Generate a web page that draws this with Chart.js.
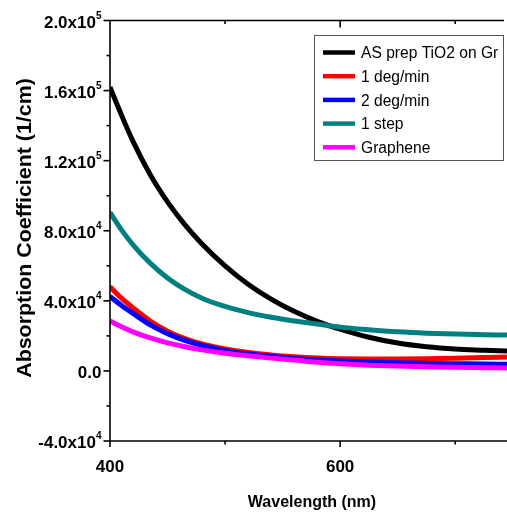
<!DOCTYPE html>
<html>
<head>
<meta charset="utf-8">
<script src="https://cdn.jsdelivr.net/npm/chart.js@4/dist/chart.umd.min.js"></script>
<style>
  html, body { margin: 0; padding: 0; background: #fff; }
  #wrap { width: 507px; height: 517px; }
</style>
</head>
<body>
<div id="wrap"><canvas id="c" width="507" height="517"></canvas></div>
<script>
// Wavelength grid (nm)
const wavelengths = [400, 410, 420, 435, 450, 465, 480, 500, 520, 540, 560, 580, 600, 625, 650, 675, 700, 725, 745];

// Absorption coefficient (1/cm) for each sample
const asPrepTiO2 = [162000, 146000, 131000, 112000, 96500, 83500, 72500, 60000, 49500, 41000, 34000, 28300, 23800, 19200, 15900, 13800, 12500, 11800, 11300];
const oneDegMin  = [48000, 41500, 36000, 28500, 22700, 18500, 15400, 12500, 10500, 9100, 8100, 7400, 7000, 6800, 6750, 6900, 7200, 7600, 8000];
const twoDegMin  = [42500, 37300, 32800, 26300, 21300, 17400, 14500, 11600, 9600, 8200, 7100, 6300, 5700, 5100, 4600, 4300, 4100, 3900, 3800];
const oneStep    = [90500, 80500, 72000, 61500, 53000, 46500, 41500, 36800, 33300, 30600, 28500, 26800, 25000, 23500, 22300, 21500, 21000, 20700, 20500];
const graphene   = [28500, 25200, 22300, 18800, 16000, 13800, 12000, 10100, 8600, 7300, 6200, 5000, 4100, 3300, 2750, 2350, 2050, 1850, 1700];

// Series names and colours
const seriesNames  = ['AS prep TiO2 on Gr', '1 deg/min', '2 deg/min', '1 step', 'Graphene'];
const seriesColors = ['#000000', '#ff0000', '#0000ff', '#008080', '#ff00ff'];
const seriesValues = [asPrepTiO2, oneDegMin, twoDegMin, oneStep, graphene];
// later series are painted over earlier ones
const seriesOrder  = [5, 4, 3, 2, 1];

// Axis ranges and ticks
const xRange = [400, 745];
const yRange = [-40000, 200000];
const xTickValues = [400, 500, 600, 700];
const xTickLabels = ['400', '', '600', ''];
const yTickValues = [-40000, -20000, 0, 20000, 40000, 60000, 80000, 100000, 120000, 140000, 160000, 180000, 200000];
const yTickLabels = ['-4.0x10^4', '', '0.0', '', '4.0x10^4', '', '8.0x10^4', '', '1.2x10^5', '', '1.6x10^5', '', '2.0x10^5'];

const xTitle = 'Wavelength (nm)';
const yTitle = 'Absorption Coefficient (1/cm)';

const FONT = '"Liberation Sans", Arial, Helvetica, sans-serif';

const datasets = seriesNames.map((name, i) => ({
  label: name,
  data: wavelengths.map((w, j) => ({ x: w, y: seriesValues[i][j] })),
  borderColor: seriesColors[i],
  backgroundColor: seriesColors[i],
  borderWidth: 5,
  pointRadius: 0,
  fill: false,
  cubicInterpolationMode: 'monotone',
  order: seriesOrder[i]
}));

// Axes frame, ticks, labels and titles in an Origin-like style
const framePlugin = {
  id: 'frame',
  afterDatasetsDraw(chart) {
    const ctx = chart.ctx;
    const xs = chart.scales.x, ys = chart.scales.y;
    const a = chart.chartArea;
    ctx.save();
    ctx.strokeStyle = '#000';
    ctx.fillStyle = '#000';
    ctx.lineWidth = 1.6;
    ctx.lineCap = 'butt';

    // left axis, bottom axis, top border
    ctx.beginPath();
    ctx.moveTo(a.left, a.top); ctx.lineTo(a.left, a.bottom);
    ctx.moveTo(a.left, a.bottom); ctx.lineTo(a.right, a.bottom);
    ctx.moveTo(a.left, a.top); ctx.lineTo(a.right - 3, a.top);
    ctx.stroke();

    // y ticks (outward) and labels with superscript exponents
    yTickValues.forEach((v, i) => {
      const py = ys.getPixelForValue(v);
      const major = yTickLabels[i] !== '';
      ctx.beginPath();
      ctx.moveTo(a.left, py);
      ctx.lineTo(a.left - (major ? 6.5 : 3.5), py);
      ctx.stroke();
      if (!major) return;
      const parts = yTickLabels[i].split('^');
      ctx.font = 'bold 17px ' + FONT;
      const wBase = ctx.measureText(parts[0]).width;
      let wExp = 0;
      if (parts[1]) { ctx.font = 'bold 10px ' + FONT; wExp = ctx.measureText(parts[1]).width; }
      const right = 101.5;
      const x0 = right - wBase - wExp;
      ctx.textAlign = 'left';
      ctx.textBaseline = 'alphabetic';
      ctx.font = 'bold 17px ' + FONT;
      ctx.fillText(parts[0], x0, py + 7);
      if (parts[1]) {
        ctx.font = 'bold 10px ' + FONT;
        ctx.fillText(parts[1], x0 + wBase, py - 2);
      }
    });

    // x ticks: outward on the bottom axis, inward on the top border
    xTickValues.forEach((v, i) => {
      const px = xs.getPixelForValue(v);
      const major = xTickLabels[i] !== '';
      ctx.beginPath();
      ctx.moveTo(px, a.bottom);
      ctx.lineTo(px, a.bottom + (major ? 6 : 3.5));
      if (v > xRange[0]) {
        ctx.moveTo(px, a.top);
        ctx.lineTo(px, a.top + (major ? 7 : 3.5));
      }
      ctx.stroke();
      if (major) {
        ctx.font = 'bold 17px ' + FONT;
        ctx.textAlign = 'center';
        ctx.textBaseline = 'alphabetic';
        ctx.fillText(xTickLabels[i], px, 472);
      }
    });

    // axis titles
    ctx.font = 'bold 16px ' + FONT;
    ctx.textAlign = 'center';
    ctx.textBaseline = 'alphabetic';
    ctx.fillText(xTitle, 312, 507);

    ctx.save();
    ctx.translate(30.5, 228);
    ctx.rotate(-Math.PI / 2);
    ctx.scale(1.07, 1);
    ctx.font = 'bold 20px ' + FONT;
    ctx.fillText(yTitle, 0, 0);
    ctx.restore();

    // legend box
    const lx = 314.5, ly = 35.5, lw = 189, lh = 125;
    ctx.fillStyle = '#fff';
    ctx.fillRect(lx, ly, lw, lh);
    ctx.strokeStyle = '#555';
    ctx.lineWidth = 1;
    ctx.strokeRect(lx, ly, lw, lh);
    ctx.font = '15.6px ' + FONT;
    ctx.textAlign = 'left';
    ctx.textBaseline = 'alphabetic';
    seriesNames.forEach((name, i) => {
      const ry = 52.5 + i * 23.7;
      ctx.strokeStyle = seriesColors[i];
      ctx.lineWidth = 4.5;
      ctx.beginPath();
      ctx.moveTo(323, ry);
      ctx.lineTo(355, ry);
      ctx.stroke();
      ctx.fillStyle = '#000';
      ctx.fillText(name, 361, ry + 5.7);
    });
    ctx.restore();
  }
};

new Chart(document.getElementById('c'), {
  type: 'line',
  data: { datasets },
  options: {
    responsive: false,
    animation: false,
    events: [],
    layout: { padding: { left: 110, top: 20.5, right: 0, bottom: 76 } },
    plugins: { legend: { display: false }, tooltip: { enabled: false } },
    scales: {
      x: { type: 'linear', min: xRange[0], max: xRange[1], display: false },
      y: { type: 'linear', min: yRange[0], max: yRange[1], display: false }
    }
  },
  plugins: [framePlugin]
});
</script>
</body>
</html>
